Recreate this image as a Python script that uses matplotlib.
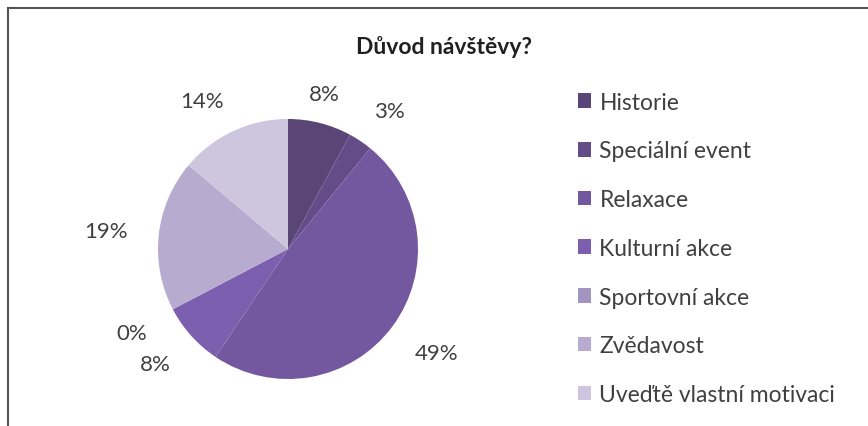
import numpy as np
import matplotlib.pyplot as plt
from matplotlib.lines import Line2D

plt.rcParams['font.family'] = ['Lato', 'DejaVu Sans']

# Visit reasons (percent of answers)
categories = ['Historie', 'Speciální event', 'Relaxace', 'Kulturní akce',
              'Sportovní akce', 'Zvědavost', 'Uveďtě vlastní motivaci']
shares = [8, 3, 49, 8, 0, 19, 14]
colors = ['#5a4577', '#644c88', '#7358a0', '#7c5fae',
          '#a295c2', '#b7acd0', '#cdc6de']

W, H = 868, 427
fig = plt.figure(figsize=(W / 100, H / 100), dpi=100)

# square axes for the pie, in pixel units
cx, cy, r = 288, 250, 130
ax = fig.add_axes([(cx - r) / W, (H - cy - r) / H, 2 * r / W, 2 * r / H])
wedges, _ = ax.pie(shares, colors=colors, startangle=90, counterclock=False,
                   radius=1, wedgeprops=dict(linewidth=0))
ax.set_xlim(-1, 1)
ax.set_ylim(-1, 1)
ax.axis('off')

# percentage labels just outside each wedge
for w, val in zip(wedges, shares):
    mid = np.deg2rad((w.theta1 + w.theta2) / 2)
    c, s = np.cos(mid), np.sin(mid)
    ha = 'center' if abs(c) < 0.3 else ('left' if c > 0 else 'right')
    va = 'center' if abs(s) < 0.3 else ('bottom' if s > 0 else 'top')
    d = 1.12 + 0.12 * abs(c)
    ax.text(d * c, d * s, f'{val}%', ha=ha, va=va,
            fontsize=16, color='#404040', clip_on=False)

fig.text(444 / W, 1 - 47 / H, 'Důvod návštěvy?', ha='center', va='center',
         fontsize=16.5, fontweight='bold', color='#202020')

leg = fig.legend(wedges, categories, loc='upper left',
                 bbox_to_anchor=(557 / W, 1 - 72 / H), frameon=False,
                 fontsize=16.5, handlelength=0.6, handleheight=0.6,
                 handletextpad=0.35, labelspacing=1.21)
for t in leg.get_texts():
    t.set_color('#404040')

# chart frame (left and top edges)
fig.add_artist(Line2D([7.5 / W, 7.5 / W], [0, 1 - 9 / H], color='#555555', lw=1.5))
fig.add_artist(Line2D([7.5 / W, 1], [1 - 9 / H, 1 - 9 / H], color='#555555', lw=1.5))

fig.savefig('out.png', dpi=100)
